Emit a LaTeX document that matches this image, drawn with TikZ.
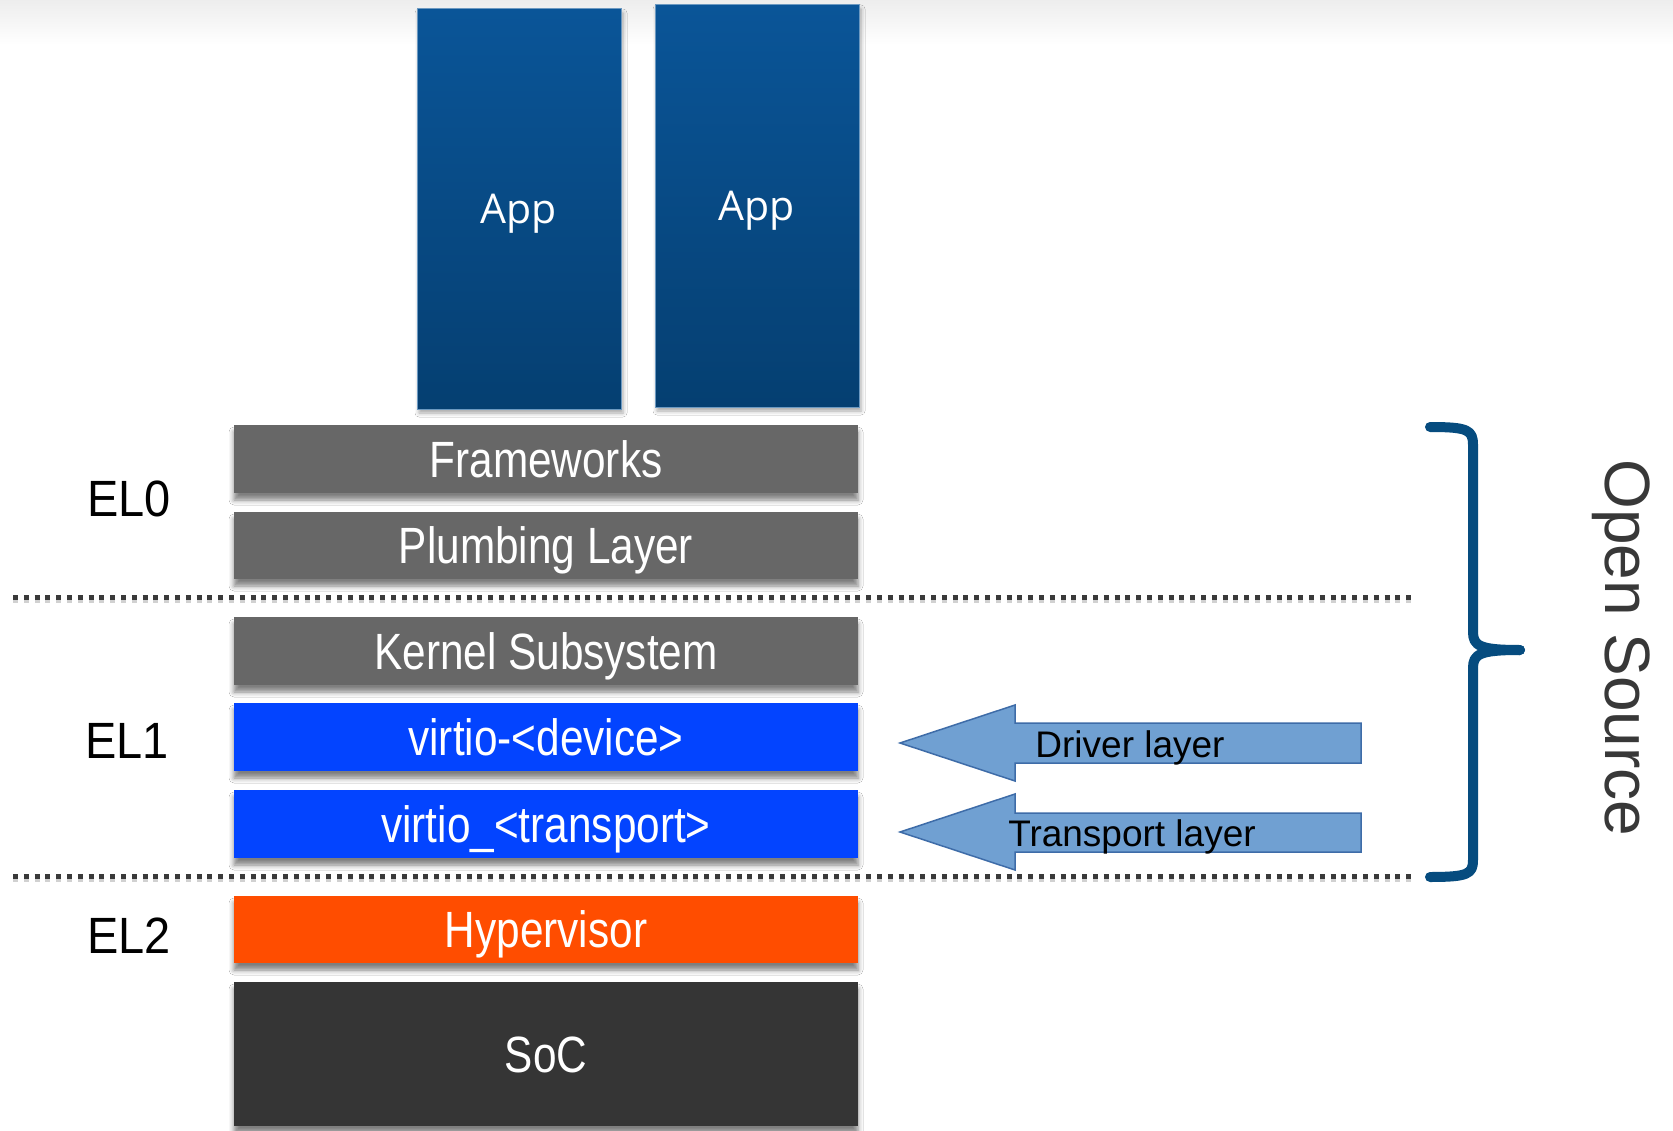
\documentclass[tikz,border=0pt]{standalone}
\usepackage{fontspec}
\setmainfont{Liberation Sans}
\newfontfamily\appfont{Open Sans}
\usepackage{graphicx}
\usetikzlibrary{shadows.blur}
\definecolor{gbox}{HTML}{676767}
\definecolor{vblue}{HTML}{0344FF}
\definecolor{hyp}{HTML}{FF4D00}
\definecolor{socc}{HTML}{353535}
\definecolor{apptop}{HTML}{0A5598}
\definecolor{appbot}{HTML}{053F71}
\definecolor{arrfill}{HTML}{70A0D2}
\definecolor{arrdraw}{HTML}{3E6CA8}
\definecolor{bracec}{HTML}{064C7F}
\definecolor{dotc}{HTML}{3A3A3A}
\newcommand{\sq}[1]{\scalebox{0.83}[1]{#1}}
\newcommand{\sqel}[1]{\scalebox{0.92}[1]{#1}}
\tikzset{
  layer/.style={minimum width=624pt, inner sep=0pt, text=white,
    text height=36.5pt, text depth=0pt,
    font=\fontsize{51}{60}\selectfont,
    blur shadow={shadow xshift=0pt, shadow yshift=-7pt, shadow blur radius=5pt, shadow opacity=50}},
  appbox/.style={minimum width=204pt, inner sep=0pt, text=white,
    text height=29pt, text depth=0pt,
    top color=apptop, bottom color=appbot, draw=apptop!60!white, line width=1pt,
    font=\appfont\fontsize{41}{48}\selectfont,
    blur shadow={shadow xshift=2pt, shadow yshift=-4pt, shadow blur radius=4pt, shadow opacity=35}},
  ellabel/.style={font=\fontsize{51}{60}\selectfont, text=black, inner sep=0pt,
    text height=36.5pt, text depth=0pt},
  sepline/.style={dotc, line width=5pt, dash pattern=on 5pt off 5.8pt},
  sepshadow/.style={black!18, line width=6pt, dash pattern=on 5pt off 5.8pt},
  blockarrow/.style={fill=arrfill, draw=arrdraw, line width=1.5pt, line join=miter},
  arrtext/.style={font=\fontsize{37}{42}\selectfont, text=black, inner sep=0pt,
    text height=26.5pt, text depth=0pt},
  bracestyle/.style={bracec, line width=10pt, line cap=round, line join=round},
}
\begin{document}
\begin{tikzpicture}[x=1pt, y=-1pt]
\useasboundingbox (0,0) rectangle (1673,1131);
\fill[white] (0,0) rectangle (1673,1131);
\fill[top color=black!7, bottom color=white] (0,0) rectangle (1673,45);

% apps
\node[appbox, minimum height=400pt] (app1) at (519,209) {App};
\node[appbox, minimum height=402pt] (app2) at (757,206) {App};

% layers
\node[layer, fill=gbox, minimum height=68pt] (fw) at (546,459) {\sq{Frameworks}};
\node[layer, fill=gbox, minimum height=67pt] (plumb) at (546,545.5) {\sq{Plumbing Layer}};
\node[layer, fill=gbox, minimum height=68pt] (kern) at (546,651) {\sq{Kernel Subsystem}};
\node[layer, fill=vblue, minimum height=68pt] (vdev) at (546,737) {\sq{virtio-<device>}};
\node[layer, fill=vblue, minimum height=68pt] (vtr) at (546,824) {\sq{virtio\_<transport>}};
\node[layer, fill=hyp, minimum height=67pt] (hypv) at (546,929.5) {\sq{Hypervisor}};
\node[layer, fill=socc, minimum height=144pt] (soc) at (546,1054) {\sq{SoC}};

% EL labels
\node[ellabel] (el0) at (129,498) {\sqel{EL0}};
\node[ellabel] (el1) at (127,740) {\sqel{EL1}};
\node[ellabel] (el2) at (129,935) {\sqel{EL2}};

% separators
\coordinate (s1a) at (13,597); \coordinate (s1b) at (1415,597);
\coordinate (s2a) at (13,876); \coordinate (s2b) at (1415,876);
\draw[sepshadow] ([yshift=-3pt]s1a) -- ([yshift=-3pt]s1b);
\draw[sepshadow] ([yshift=-3pt]s2a) -- ([yshift=-3pt]s2b);
\draw[sepline] (s1a) -- (s1b);
\draw[sepline] (s2a) -- (s2b);

% block arrows
\draw[blockarrow] (900,743) -- (1015,705) -- (1015,723) -- (1361,723) -- (1361,763) -- (1015,763) -- (1015,781) -- cycle;
\draw[blockarrow] (900,832) -- (1015,794) -- (1015,813) -- (1361,813) -- (1361,852) -- (1015,852) -- (1015,870) -- cycle;
\node[arrtext] (drv) at (1130,744) {Driver layer};
\node[arrtext] (trn) at (1132,833) {Transport layer};

% brace
\draw[bracestyle] (1430,427) .. controls (1468,427) and (1473,430) .. (1473,445) -- (1473,632)
   .. controls (1473,646) and (1480,650) .. (1520,650);
\draw[bracestyle] (1520,650) .. controls (1480,650) and (1473,654) .. (1473,668) -- (1473,860)
   .. controls (1473,874) and (1468,877) .. (1430,877);
\node[font=\fontsize{64}{70}\selectfont, text=black!78, rotate=-90, inner sep=0pt] (os) at (1621,648) {Open Source};
\end{tikzpicture}
\end{document}
